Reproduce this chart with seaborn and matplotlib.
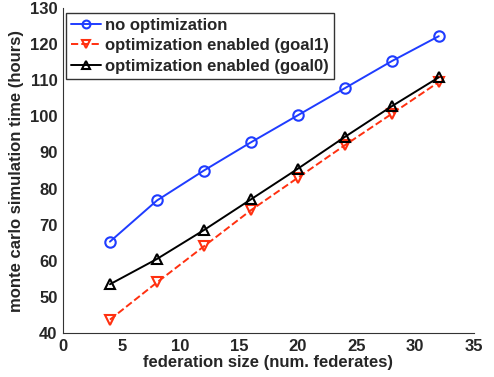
import matplotlib
matplotlib.use("Agg")
import matplotlib.pyplot as plt
import seaborn as sns
import pandas as pd

federates = [4, 8, 12, 16, 20, 24, 28, 32]
no_opt = [65.3, 76.7, 85.0, 92.8, 100.3, 107.8, 115.3, 122.2]
goal1 = [43.7, 54.0, 64.0, 74.0, 83.0, 92.0, 100.7, 109.5]
goal0 = [53.5, 60.5, 68.5, 77.0, 85.5, 94.3, 102.8, 110.8]
labels = ["no optimization", "optimization enabled (goal1)", "optimization enabled (goal0)"]

sns.set_style("white")
plt.rcParams['font.family'] = ['Liberation Sans', 'DejaVu Sans']
plt.rcParams['font.weight'] = 'bold'

fig = plt.figure(figsize=(4.94, 3.77), dpi=100)
ax = fig.add_axes([0.1275, 0.1167, 0.832, 0.862])

styles = [
    dict(color="#1f3cff", marker="o", linestyle="-"),
    dict(color="#ff3010", marker="v", linestyle="--"),
    dict(color="black", marker="^", linestyle="-"),
]
for vals, lab, st in zip([no_opt, goal1, goal0], labels, styles):
    df = pd.DataFrame({"x": federates, "y": vals})
    sns.lineplot(data=df, x="x", y="y", ax=ax, label=lab, color=st["color"],
                 linestyle=st["linestyle"], marker=st["marker"], markersize=7.5,
                 markerfacecolor="none", markeredgecolor=st["color"],
                 markeredgewidth=1.5, linewidth=1.4)

ax.set_xlim(0, 35)
ax.set_ylim(40, 130)
ax.set_xticks(range(0, 36, 5))
ax.set_yticks(range(40, 131, 10))
ax.set_xlabel("federation size (num. federates)", fontsize=12, fontweight="bold", labelpad=1)
ax.set_ylabel("monte carlo simulation time (hours)", fontsize=12, fontweight="bold", labelpad=4)
ax.tick_params(direction="in", length=4, labelsize=12, color="#333333", width=0.8, pad=4)
for lbl in ax.get_xticklabels() + ax.get_yticklabels():
    lbl.set_fontweight("bold")
for s in ["top", "right"]:
    ax.spines[s].set_visible(False)
for s in ["left", "bottom"]:
    ax.spines[s].set_color("#333333")
    ax.spines[s].set_linewidth(0.8)

leg = ax.legend(loc="upper left", bbox_to_anchor=(0.004, 0.99), frameon=True, fancybox=False,
                fontsize=12, handlelength=1.8, handletextpad=0.2, borderpad=0.3,
                labelspacing=0.32, borderaxespad=0.1, markerscale=0.75)
leg.get_frame().set_edgecolor("black")
leg.get_frame().set_linewidth(1.0)
for t in leg.get_texts():
    t.set_fontweight("bold")

fig.savefig("out.png", dpi=100)
